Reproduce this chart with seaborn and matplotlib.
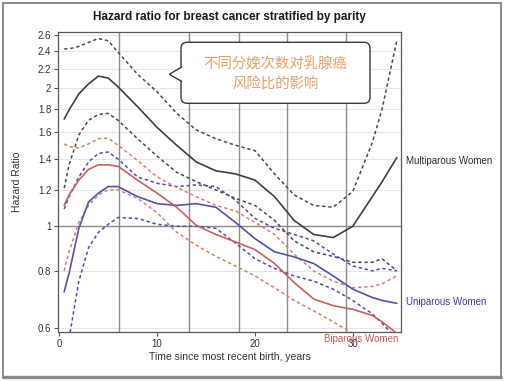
import numpy as np
import pandas as pd
import matplotlib
matplotlib.use("Agg")
import matplotlib.pyplot as plt
import matplotlib.transforms as mtransforms
from matplotlib.patches import FancyBboxPatch, Polygon, Rectangle
from matplotlib.ticker import FixedLocator, FixedFormatter, NullLocator
import seaborn as sns

# Data (hazard ratio vs years since most recent birth)
time = [0.5, 1, 2, 3, 4, 5, 6, 8, 10, 12, 14, 16, 18, 20, 22, 24, 26, 28, 30, 32, 33, 34.5]

multi_hr = [1.71, 1.79, 1.94, 2.04, 2.12, 2.10, 2.01, 1.82, 1.64, 1.50, 1.38, 1.32, 1.30, 1.26, 1.16, 1.03, 0.96, 0.945, 1.00, 1.16, 1.25, 1.41]
multi_hi = [2.43, 2.43, 2.46, 2.51, 2.56, 2.53, 2.39, 2.14, 1.96, 1.76, 1.62, 1.55, 1.50, 1.46, 1.30, 1.17, 1.11, 1.10, 1.19, 1.52, 1.80, 2.53]
multi_lo = [1.21, 1.36, 1.58, 1.70, 1.75, 1.76, 1.70, 1.55, 1.42, 1.31, 1.25, 1.20, 1.15, 1.11, 1.03, 0.93, 0.88, 0.86, 0.835, 0.835, 0.85, 0.80]

uni_hr = [0.72, 0.79, 0.99, 1.13, 1.18, 1.22, 1.22, 1.16, 1.12, 1.11, 1.12, 1.10, 1.02, 0.94, 0.88, 0.858, 0.83, 0.78, 0.73, 0.70, 0.69, 0.68]
uni_hi = [1.09, 1.16, 1.28, 1.38, 1.44, 1.45, 1.40, 1.28, 1.24, 1.22, 1.23, 1.22, 1.14, 1.04, 0.99, 0.96, 0.93, 0.87, 0.82, 0.80, 0.81, 0.80]
uni_lo = [np.nan, 0.57, 0.76, 0.90, 0.97, 1.01, 1.045, 1.04, 1.01, 1.00, 1.00, 0.99, 0.92, 0.85, 0.81, 0.78, 0.76, 0.73, 0.69, 0.645, 0.615, 0.57]

bi_hr = [1.11, 1.17, 1.26, 1.33, 1.36, 1.36, 1.35, 1.26, 1.18, 1.10, 1.005, 0.96, 0.925, 0.89, 0.83, 0.755, 0.695, 0.672, 0.66, 0.64, 0.62, 0.585]
bi_hi = [1.51, 1.49, 1.48, 1.51, 1.55, 1.555, 1.50, 1.39, 1.28, 1.215, 1.16, 1.11, 1.08, 1.02, 0.96, 0.87, 0.80, 0.76, 0.735, 0.74, 0.75, 0.78]
bi_lo = [0.80, 0.88, 1.02, 1.11, 1.17, 1.20, 1.20, 1.15, 1.07, 0.97, 0.91, 0.86, 0.82, 0.78, 0.735, 0.69, 0.655, 0.62, 0.585, np.nan, np.nan, np.nan]

knots = [6.1, 13.3, 18.4, 23.3, 29.3]
y_ticks = [0.6, 0.8, 1, 1.2, 1.4, 1.6, 1.8, 2, 2.2, 2.4, 2.6]
y_tick_labels = ["0.6", "0.8", "1", "1.2", "1.4", "1.6", "1.8", "2", "2.2", "2.4", "2.6"]
x_ticks = [0, 10, 20, 30]

groups = {
    "Multiparous Women": (multi_hr, multi_lo, multi_hi),
    "Uniparous Women": (uni_hr, uni_lo, uni_hi),
    "Biparous Women": (bi_hr, bi_lo, bi_hi),
}
line_colors = {"Multiparous Women": "#3f3f3f", "Uniparous Women": "#5252b4", "Biparous Women": "#c95f5f"}
dash_colors = {"Multiparous Women": "#4a4a4a", "Uniparous Women": "#4f4fa8", "Biparous Women": "#d9806a"}
text_colors = {"Multiparous Women": "#2b2b2b", "Uniparous Women": "#3b3ba6", "Biparous Women": "#cc5555"}

rows = []
for name, (hr, lo, hi) in groups.items():
    for kind, vals in (("hr", hr), ("lo", lo), ("hi", hi)):
        for t, v in zip(time, vals):
            rows.append({"time": t, "value": v, "group": name, "kind": kind})
df = pd.DataFrame(rows).dropna()

sns.set_theme(style="white")
plt.rcParams['font.family'] = ['Liberation Sans', 'Noto Sans CJK SC', 'DejaVu Sans']

fig = plt.figure(figsize=(5.05, 3.81), dpi=100)
ax = fig.add_axes([58.3 / 505, 1 - 331.7 / 381, 342.4 / 505, 299.4 / 381])

ax.set_yscale("log")
ax.set_xlim(-0.1, 34.9)
ax.set_ylim(0.59, 2.64)

# gridlines and reference lines
for yt in y_ticks:
    ax.axhline(yt, color="#e6e6e6", lw=0.8, zorder=0)
ax.axhline(1, color="#8c8c8c", lw=1.0, zorder=1)
for k in knots:
    ax.axvline(k, color="#8c8c8c", lw=1.0, zorder=1)

dash = (0, (2.2, 1.8))
for name in groups:
    sub = df[df["group"] == name]
    for kind in ("lo", "hi"):
        sns.lineplot(data=sub[sub["kind"] == kind], x="time", y="value", ax=ax,
                     color=dash_colors[name], lw=1.1, linestyle=dash, estimator=None, zorder=3)
    sns.lineplot(data=sub[sub["kind"] == "hr"], x="time", y="value", ax=ax,
                 color=line_colors[name], lw=1.2, estimator=None, zorder=4)

ax.yaxis.set_major_locator(FixedLocator(y_ticks))
ax.yaxis.set_major_formatter(FixedFormatter(y_tick_labels))
ax.yaxis.set_minor_locator(NullLocator())
ax.set_xticks(x_ticks)
ax.tick_params(axis="both", which="major", direction="out", length=3, width=0.8,
               color="#555555", labelsize=7, labelcolor="#333333", pad=2)
ax.tick_params(left=True, bottom=True)
for s in ax.spines.values():
    s.set_color("#5a5a5a")
    s.set_linewidth(0.9)

ax.set_xlabel("Time since most recent birth, years", fontsize=7.5, color="#333333")
ax.set_ylabel("Hazard Ratio", fontsize=7.5, color="#333333")
ax.xaxis.set_label_coords(0.5, -0.068)
ax.yaxis.set_label_coords(-0.106, 0.5)
ax.set_title("Hazard ratio for breast cancer stratified by parity", fontsize=8.5,
             fontweight="bold", color="#1a1a1a", pad=9)

# line end labels
ax.annotate("Multiparous Women", xy=(time[-1], multi_hr[-1]), xytext=(9, -3),
            textcoords="offset pixels", fontsize=7, color=text_colors["Multiparous Women"],
            va="center", ha="left", annotation_clip=False)
ax.annotate("Uniparous Women", xy=(time[-1], uni_hr[-1]), xytext=(9, 1),
            textcoords="offset pixels", fontsize=7, color=text_colors["Uniparous Women"],
            va="center", ha="left", annotation_clip=False)
blend = mtransforms.blended_transform_factory(ax.transData, ax.transAxes)
ax.text(34.66, -0.025, "Biparous Women", transform=blend, fontsize=7,
        color=text_colors["Biparous Women"], ha="right", va="center", clip_on=False)

# speech-bubble callout (pixel coordinates)
px = mtransforms.IdentityTransform()
box = FancyBboxPatch((181, 381 - 103.3), 189, 61, boxstyle="round,pad=0,rounding_size=6",
                     transform=px, facecolor="white", edgecolor="#3a3a3a", lw=1.0, zorder=10)
fig.patches.append(box)
tip = Polygon([(182.2, 381 - 66.7), (169.3, 381 - 74.3), (182.2, 381 - 81.7)], closed=False,
              transform=px, facecolor="white", edgecolor="#3a3a3a", lw=1.0, zorder=11)
fig.patches.append(tip)
fig.text(275.7, 381 - 73.8, "不同分娩次数对乳腺癌\n风险比的影响", transform=px,
         fontsize=10.4, color="#e3a265", ha="center", va="center", linespacing=1.45,
         family=['Noto Sans CJK SC', 'DejaVu Sans'], zorder=12)

# outer frame of the picture
frame = Rectangle((3, 4.5), 498, 373.5, transform=px, fill=False, edgecolor="#8a8a8a", lw=1.4)
fig.patches.append(frame)
fig.lines.append(plt.Line2D([3, 501], [4.5, 4.5], transform=px, color="#8a8a8a", lw=2.4))

fig.savefig("out.png", dpi=100)
